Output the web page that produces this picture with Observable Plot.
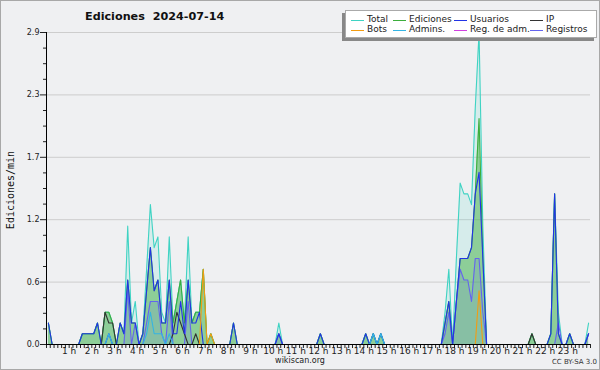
<!DOCTYPE html>
<html><head><meta charset="utf-8">
<script src="https://cdn.jsdelivr.net/npm/d3@7"></script>
<script src="https://cdn.jsdelivr.net/npm/@observablehq/plot@0.6"></script>
<style>
html,body{margin:0;padding:0;background:#eff0f2;}
#wrap{position:relative;width:600px;height:370px;overflow:hidden;background:#eff0f2;font-family:"DejaVu Sans",sans-serif;}
#border{position:absolute;left:0;top:0;width:598px;height:368px;border:1px solid #a8a8a8;pointer-events:none;}
#title{position:absolute;left:85px;top:10px;font:bold 11.2px "DejaVu Sans";color:#111;white-space:pre;}
#ylab{position:absolute;left:10px;top:190px;font:10px "DejaVu Sans Mono";color:#111;transform:translate(-50%,-50%) rotate(-90deg);white-space:nowrap;}
#site{position:absolute;left:300px;top:356px;transform:translateX(-50%);font:8px "DejaVu Sans";color:#222;}
#lic{position:absolute;right:3px;top:358px;font:7px "DejaVu Sans";color:#333;}
#legend{position:absolute;left:345px;top:10px;width:250px;height:26px;background:#fff;border:1px solid #aaa;box-shadow:-3px 3px 0 #888;}
.li{position:absolute;font:9px "DejaVu Sans";color:#222;white-space:nowrap;line-height:11px;}
.sw{position:absolute;width:13px;height:0;border-top:1px solid;top:6px;}
</style></head>
<body><div id="wrap"><div id="chart"></div>
<div id="title">Ediciones  2024-07-14</div>
<div id="ylab">Ediciones/min</div>
<div id="site">wikiscan.org</div>
<div id="lic">CC BY-SA 3.0</div>
<div id="legend"></div>
<div id="border"></div>
</div>
<script>
// 10-minute slots, values in edits/min
const total = [
 .2,0,0,0,0,0,0,0,0,.1,.1,.1,
 .1,.2,0,.3,.3,.2,0,.2,.1,1.1,.2,.4,
 0,.1,.7,1.3,.9,1.0,.3,.2,1.0,.2,.4,.6,
 .2,1.0,.2,.3,.3,.7,0,.1,0,0,0,0,
 0,.2,0,0,0,0,0,0,0,0,0,0,
 0,.2,0,0,0,0,0,0,0,0,0,0,
 .1,0,0,0,0,0,0,0,0,0,0,0,
 .1,0,.1,0,.1,0,0,0,0,0,0,0,
 0,0,0,0,0,0,0,0,0,.3,.7,0,
 .8,1.5,1.4,1.4,1.3,2.2,2.9,1.1,0,0,0,0,
 0,0,0,0,0,0,0,0,.1,0,0,0,
 0,.1,1.4,.3,0,0,.1,0,0,0,0,.2];
const ediciones = [
 .2,0,0,0,0,0,0,0,0,.1,.1,.1,
 .1,.2,0,.3,.3,.2,0,.2,.1,.6,.2,.2,
 0,.1,.5,.9,.5,.6,.2,.2,.6,.2,.4,.6,
 .2,.6,.2,.3,.3,.7,0,.1,0,0,0,0,
 0,.2,0,0,0,0,0,0,0,0,0,0,
 0,.1,0,0,0,0,0,0,0,0,0,0,
 .1,0,0,0,0,0,0,0,0,0,0,0,
 .1,0,.1,0,.1,0,0,0,0,0,0,0,
 0,0,0,0,0,0,0,0,0,.2,.4,0,
 .4,.8,.8,.8,.9,1.4,2.1,.8,0,0,0,0,
 0,0,0,0,0,0,0,0,.1,0,0,0,
 0,.1,1.4,.1,0,0,.1,0,0,0,0,.1];
const usuarios = [
 .2,0,0,0,0,0,0,0,0,.1,.1,.1,
 .1,.2,0,0,.1,0,0,.2,.1,.6,.2,.2,
 0,.1,.5,.9,.5,.6,.2,.2,.6,.1,.1,.4,
 .1,.6,.2,.2,.3,0,0,0,0,0,0,0,
 0,.2,0,0,0,0,0,0,0,0,0,0,
 0,.1,0,0,0,0,0,0,0,0,0,0,
 .1,0,0,0,0,0,0,0,0,0,0,0,
 .1,0,.1,0,.1,0,0,0,0,0,0,0,
 0,0,0,0,0,0,0,0,0,.2,.4,0,
 .4,.8,.8,.8,.9,1.4,1.6,.8,0,0,0,0,
 0,0,0,0,0,0,0,0,0,0,0,0,
 0,.1,1.4,.1,0,0,.1,0,0,0,0,.1];
const ip = [
 0,0,0,0,0,0,0,0,0,0,0,0,
 0,0,0,.3,.2,.2,0,0,0,0,0,0,
 0,0,0,0,0,0,0,0,0,.1,.3,.2,
 .1,0,0,.1,0,0,0,0,0,0,0,0,
 0,0,0,0,0,0,0,0,0,0,0,0,
 0,0,0,0,0,0,0,0,0,0,0,0,
 0,0,0,0,0,0,0,0,0,0,0,0,
 0,0,0,0,0,0,0,0,0,0,0,0,
 0,0,0,0,0,0,0,0,0,0,0,0,
 0,0,0,0,0,0,0,0,0,0,0,0,
 0,0,0,0,0,0,0,0,.1,0,0,0,
 0,0,0,0,0,0,0,0,0,0,0,0];
const bots = [
 0,0,0,0,0,0,0,0,0,0,0,0,
 0,0,0,0,0,0,0,0,0,0,0,0,
 0,0,0,0,0,0,0,0,0,0,0,0,
 0,0,0,0,0,.7,0,.1,0,0,0,0,
 0,0,0,0,0,0,0,0,0,0,0,0,
 0,0,0,0,0,0,0,0,0,0,0,0,
 0,0,0,0,0,0,0,0,0,0,0,0,
 0,0,0,0,0,0,0,0,0,0,0,0,
 0,0,0,0,0,0,0,0,0,0,0,0,
 0,0,0,0,0,0,.5,0,0,0,0,0,
 0,0,0,0,0,0,0,0,0,0,0,0,
 0,0,0,0,0,0,0,0,0,0,0,0];
const admins = [
 0,0,0,0,0,0,0,0,0,0,0,0,
 0,0,0,0,.1,0,0,0,0,0,0,0,
 0,0,.1,.3,.1,.1,.1,0,.1,0,0,0,
 0,0,0,0,0,0,0,0,0,0,0,0,
 0,0,0,0,0,0,0,0,0,0,0,0,
 0,0,0,0,0,0,0,0,0,0,0,0,
 0,0,0,0,0,0,0,0,0,0,0,0,
 0,0,.1,0,.1,0,0,0,0,0,0,0,
 0,0,0,0,0,0,0,0,0,0,0,0,
 0,0,0,0,0,0,0,0,0,0,0,0,
 0,0,0,0,0,0,0,0,0,0,0,0,
 0,0,0,0,0,0,0,0,0,0,0,0];
const regAdm = [
 0,0,0,0,0,0,0,0,0,0,0,0,
 0,0,0,0,0,0,0,0,0,0,0,0,
 0,0,0,0,0,0,0,0,0,0,0,0,
 0,0,0,0,0,0,0,0,0,0,0,0,
 0,0,0,0,0,0,0,0,0,0,0,0,
 0,0,0,0,0,0,0,0,0,0,0,0,
 0,0,0,0,0,0,0,0,0,0,0,0,
 0,0,0,0,0,0,0,0,0,0,0,0,
 0,0,0,0,0,0,0,0,0,0,0,0,
 0,0,0,0,0,0,0,0,0,0,0,0,
 0,0,0,0,0,0,0,0,0,0,0,0,
 0,0,0,0,0,0,0,0,0,0,0,0];
const registros = [
 0,0,0,0,0,0,0,0,0,0,0,0,
 0,0,0,0,0,0,0,0,0,.5,0,.2,
 0,0,.2,.4,.4,.4,.1,0,.4,0,0,0,
 0,.4,0,0,0,0,0,0,0,0,0,0,
 0,0,0,0,0,0,0,0,0,0,0,0,
 0,.1,0,0,0,0,0,0,0,0,0,0,
 0,0,0,0,0,0,0,0,0,0,0,0,
 0,0,0,0,0,0,0,0,0,0,0,0,
 0,0,0,0,0,0,0,0,0,.1,.3,0,
 .4,.7,.6,.6,.4,.8,.8,.3,0,0,0,0,
 0,0,0,0,0,0,0,0,0,0,0,0,
 0,0,0,.2,0,0,0,0,0,0,0,.1];

const hourLabels = ["1 h","2 h","3 h","4 h","5 h","6 h","7 h","8 h","9 h","10 h","11 h","12 h",
  "13 h","14 h","15 h","16 h","17 h","18 h","19 h","20 h","21 h","22 h","23 h"];
const yTickValues = [0, 0.58, 1.16, 1.74, 2.32, 2.9];
const yMinorValues = [0.145,0.29,0.435,0.725,0.87,1.015,1.305,1.45,1.595,1.885,2.03,2.175,2.465,2.61,2.755];

const series = [
  {name:"Total", data:total, color:"#3fd3c3"},
  {name:"Ediciones", data:ediciones, color:"#3cae3c"},
  {name:"Usuarios", data:usuarios, color:"#2233e6"},
  {name:"IP", data:ip, color:"#333333"},
  {name:"Bots", data:bots, color:"#f39c12"},
  {name:"Admins.", data:admins, color:"#34b4e4"},
  {name:"Reg. de adm.", data:regAdm, color:"#d040e0"},
  {name:"Registros", data:registros, color:"#6464ee"}
];
const S = Object.fromEntries(series.map(s => [s.name, s]));

// slot centres, in hours
const rows = total.map((_, i) => ({t: (i + 0.5) / 6, i}));
const val = name => d => S[name].data[d.i];

const minorX = d3.range(0, 145).map(i => i / 6);
const hourTicks = hourLabels.map(l => parseInt(l));

const lineOf = (name, w=1.1) => Plot.lineY(rows, {x:"t", y: val(name), stroke: S[name].color, strokeWidth: w});

const chart = Plot.plot({
  width: 600, height: 370,
  marginLeft: 46, marginRight: 10, marginTop: 32, marginBottom: 26,
  style: {background: "transparent", fontFamily: "DejaVu Sans", fontSize: "8px", color: "#222", overflow: "visible"},
  x: {domain: [0, 24], axis: null},
  y: {domain: [0, 2.9], axis: null},
  marks: [
    Plot.ruleY(yTickValues.slice(1), {stroke: "#cdcdcd", strokeWidth: 1}),
    Plot.areaY(rows, {x:"t", y: val("Total"), fill: S["Total"].color, fillOpacity: 0.14}),
    Plot.areaY(rows, {x:"t", y: val("Ediciones"), fill: S["Ediciones"].color, fillOpacity: 0.48}),
    Plot.areaY(rows, {x:"t", y: val("Registros"), fill: S["Registros"].color, fillOpacity: 0.14}),
    lineOf("Total"),
    lineOf("Ediciones"),
    lineOf("Registros"),
    lineOf("IP"),
    lineOf("Usuarios"),
    lineOf("Admins."),
    lineOf("Bots"),
    lineOf("Reg. de adm."),
    Plot.axisY({ticks: yTickValues, tickFormat: d3.format(".1f"), tickSize: 6, tickPadding: 1, label: null, fontSize: 8}),
    Plot.axisY({ticks: yMinorValues, tickFormat: () => "", tickSize: 3, label: null}),
    Plot.axisX({ticks: minorX, tickFormat: () => "", tickSize: 4, label: null}),
    Plot.axisX({ticks: hourTicks, tickFormat: (d, k) => hourLabels[k], tickSize: 0, tickPadding: 3, label: null, fontSize: 9}),
    Plot.ruleX([0], {stroke: "#000"}),
    Plot.ruleY([0], {stroke: "#000"})
  ]
});
document.getElementById("chart").appendChild(chart);

// legend
const lg = document.getElementById("legend");
const textX = [21, 63, 124, 200];
series.forEach((s, k) => {
  const d = document.createElement("div");
  d.className = "li";
  d.style.left = textX[k % 4] + "px";
  d.style.top = (k < 4 ? 3 : 13) + "px";
  d.innerHTML = `<span class="sw" style="border-color:${s.color};left:-16px"></span>${s.name}`;
  lg.appendChild(d);
});
</script></body></html>
